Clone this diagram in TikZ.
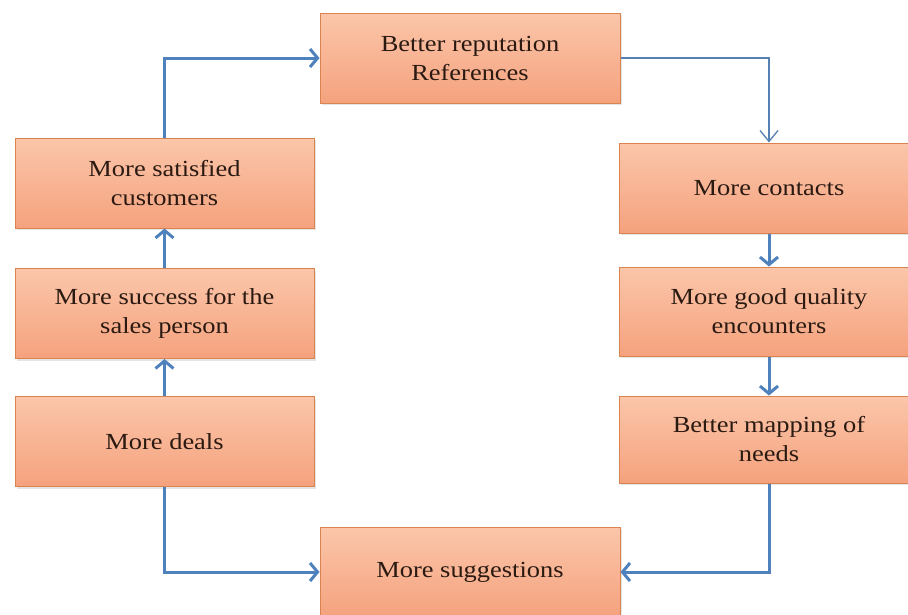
\documentclass[tikz,border=0pt]{standalone}
\usepackage{fontspec}
\setmainfont{Liberation Serif}[FakeStretch=1.15]
\usetikzlibrary{arrows.meta,shadows}
\definecolor{boxtop}{HTML}{FBC6AA}
\definecolor{boxbot}{HTML}{F5A27D}
\definecolor{boxline}{HTML}{D98350}
\definecolor{arr}{HTML}{4F81BD}
\definecolor{txt}{HTML}{2A1A12}
\begin{document}
\begin{tikzpicture}[x=1pt,y=-1pt,
  box/.style={draw=boxline, line width=1pt, top color=boxtop, bottom color=boxbot,
    minimum width=300pt, minimum height=90pt, align=center, inner sep=0pt,
    font=\fontsize{23}{29}\selectfont, text=txt,
    drop shadow={opacity=0.2, shadow xshift=1.5pt, shadow yshift=-2pt}},
  flow/.style={draw=arr, line width=3pt, -{Straight Barb[length=7.5pt,width=18pt]}},
  thinflow/.style={draw=arr!85!gray, line width=1.3pt, -{Straight Barb[length=11pt,width=18pt]}}]
\useasboundingbox (0,0) rectangle (908,614);
\clip (0,0) rectangle (908,614);
\fill[white] (0,0) rectangle (908,614);
% nodes
\node[box] (top)   at (470,58)    {Better reputation\\References};
\node[box, minimum width=299pt] (sat)   at (164.5,183)   {More satisfied\\customers};
\node[box, minimum width=299pt] (succ)  at (164.5,313.5) {More success for the\\sales person};
\node[box, minimum width=299pt] (deals) at (164.5,441.5) {More deals};
\node[box] (cont)  at (769,188)   {More contacts};
\node[box, minimum height=89pt] (qual)  at (769,311.5) {More good quality\\encounters};
\node[box, minimum height=87pt] (map)   at (769,439.5) {Better mapping of\\needs};
\node[box] (sugg)  at (470,572)   {More suggestions};
% connectors
\draw[flow] (deals.north) -- (succ.south);
\draw[flow] (succ.north) -- (sat.south);
\draw[flow] (sat.north) |- (top.west);
\draw[thinflow] (top.east) -| (cont.north);
\draw[flow] (cont.south) -- (qual.north);
\draw[flow] (qual.south) -- (map.north);
\draw[flow] (map.south) |- (sugg.east);
\draw[flow] (deals.south) |- (sugg.west);
\end{tikzpicture}
\end{document}
